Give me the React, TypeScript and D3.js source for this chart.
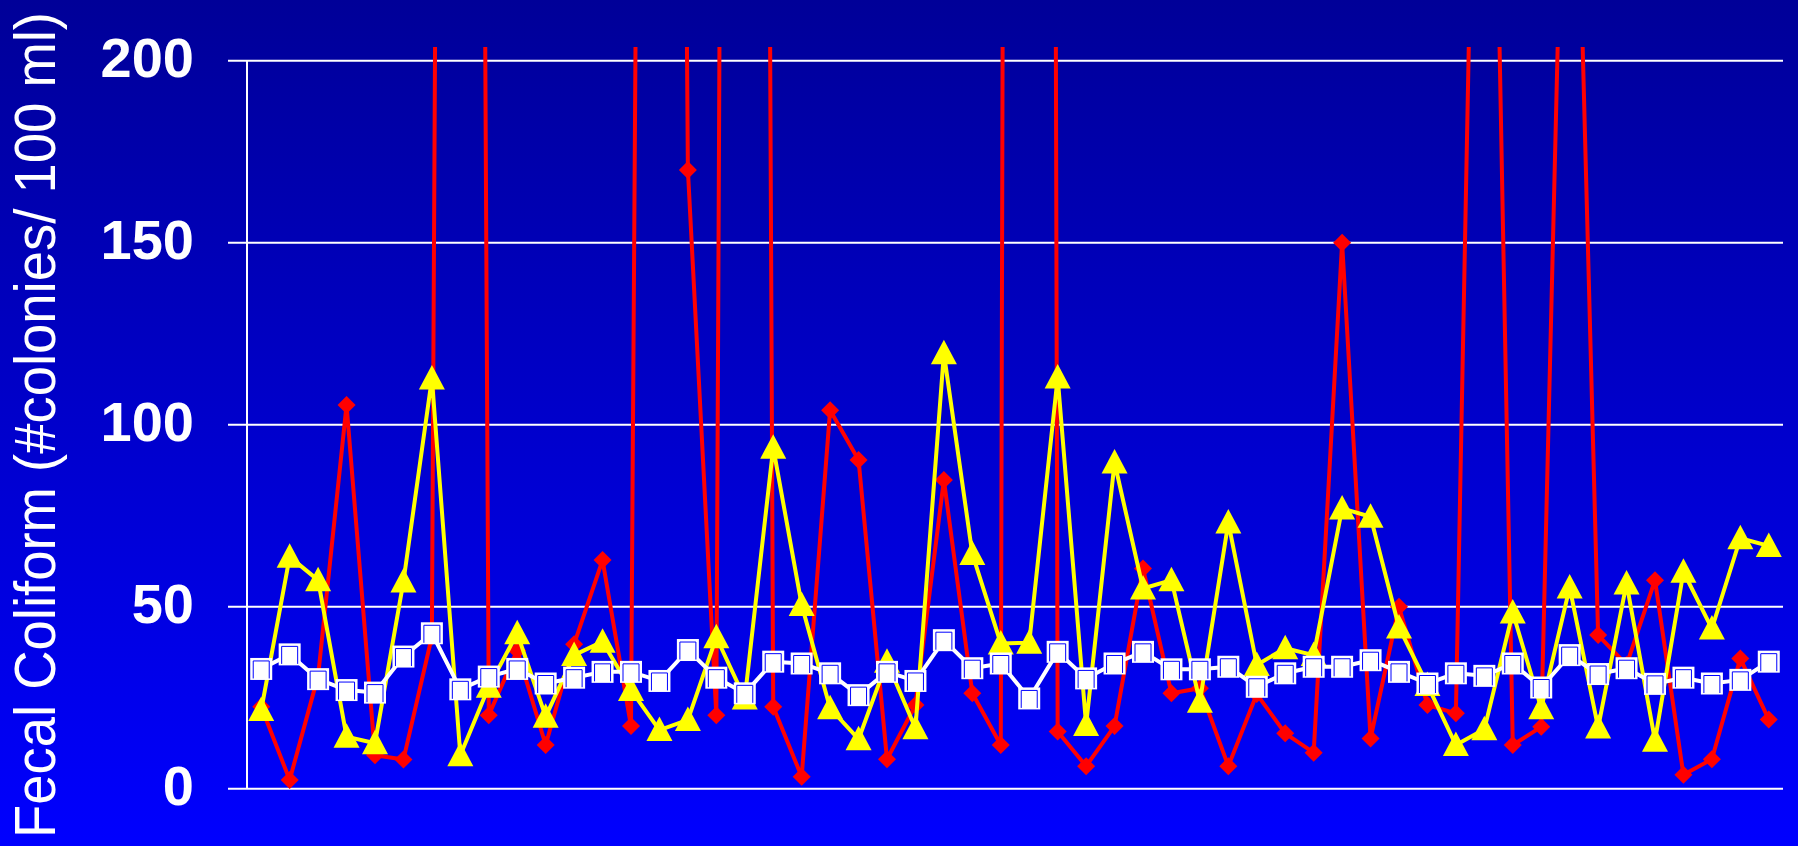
import React from "react";
import * as d3 from "d3";

// ---- Data (54 sampling occasions) ----
const categories: number[] = Array.from({ length: 54 }, (_, i) => i + 1);

const redSeries: number[] = [
  22.5, 2.4, 31, 105.4, 9.2, 8, 41.8, 1500, 20.2, 38,
  12, 39.7, 62.8, 17.2, 1200, 170, 20.2, 1700, 22.5, 3.3,
  104, 90.3, 8.1, 23, 84.8, 26.2, 12, 3000, 15.7, 6.2,
  17.2, 60.5, 26.2, 27.6, 6.2, 26, 15.2, 9.9, 150, 13.8,
  50, 23, 20.7, 425, 12, 17, 340, 42.2, 34, 57.3,
  3.8, 8.1, 35.8, 19,
];

const yellowSeries: number[] = [
  21.6, 63.7, 57.3, 14.3, 12.5, 56.9, 112.7, 9.2, 28, 42.7,
  19.8, 36.7, 40.4, 27.1, 16.1, 18.9, 41.6, 24.8, 93.7, 50.5,
  22.1, 13.6, 34.9, 16.6, 119.6, 64.5, 39.9, 40.1, 113, 17.5,
  89.6, 55, 57.3, 23.9, 73.1, 34, 38.6, 36.7, 77, 74.7,
  44.3, 28.5, 12, 16.3, 48.4, 22.1, 55.3, 16.8, 56.4, 13.2,
  59.6, 44, 68.8, 66.7,
];

const whiteSeries: number[] = [
  32.9, 36.9, 30.1, 27.1, 26.4, 36.3, 42.7, 27.3, 30.8, 32.9,
  28.9, 30.5, 32.1, 32.1, 29.6, 38.1, 30.5, 26.2, 34.9, 34.4,
  31.7, 25.7, 32.1, 29.6, 40.8, 33.1, 34.4, 24.8, 37.6, 30.3,
  34.4, 37.6, 32.8, 32.8, 33.5, 28, 31.7, 33.5, 33.5, 35.3,
  32.1, 28.9, 31.7, 31, 34.4, 27.8, 36.7, 31.5, 33.1, 28.8,
  30.5, 28.9, 29.9, 34.9,
];

const yTicks: number[] = [0, 50, 100, 150, 200];
const yTitle = "Fecal Coliform (#colonies/ 100 ml)";

// ---- Layout ----
const W = 1798;
const H = 846;
const plotLeft = 247;
const plotRight = 1783;
const yZero = 788.7;
const yTop = 60.7;
const clipTop = 47;

export default function App() {
  const x = d3
    .scaleBand<number>()
    .domain(categories)
    .range([plotLeft, plotRight])
    .paddingInner(0)
    .paddingOuter(0);
  const cx = (i: number) => (x(categories[i]) as number) + x.bandwidth() / 2;
  const y = d3.scaleLinear().domain([0, 200]).range([yZero, yTop]);

  const line = d3
    .line<number>()
    .x((_, i) => cx(i))
    .y((d) => y(d));

  const diamond = (px: number, py: number) =>
    `M${px},${py - 9} L${px + 9},${py} L${px},${py + 9} L${px - 9},${py} Z`;
  const triangle = (px: number, py: number) =>
    `M${px},${py - 13.5} L${px + 13},${py + 11} L${px - 13},${py + 11} Z`;

  return (
    <svg
      width={W}
      height={H}
      style={{ position: "absolute", left: 0, top: 0, display: "block" }}
    >
      <defs>
        <linearGradient id="bg" x1="0" y1="0" x2="0" y2="1">
          <stop offset="0" stopColor="#000098" />
          <stop offset="1" stopColor="#0000FF" />
        </linearGradient>
        <clipPath id="plotClip">
          <rect x={plotLeft - 20} y={clipTop} width={plotRight - plotLeft + 40} height={H - clipTop} />
        </clipPath>
      </defs>
      <rect x={0} y={0} width={W} height={H} fill="url(#bg)" />

      {/* gridlines */}
      {yTicks.map((t) => (
        <line
          key={"g" + t}
          x1={228}
          x2={plotRight}
          y1={y(t)}
          y2={y(t)}
          stroke="#FFFFFF"
          strokeWidth={2}
        />
      ))}
      <line x1={plotLeft} x2={plotLeft} y1={yTop} y2={yZero} stroke="#FFFFFF" strokeWidth={2} />

      {/* tick labels */}
      {yTicks.map((t) => (
        <text
          key={"t" + t}
          x={194}
          y={y(t) + 16}
          textAnchor="end"
          fill="#FFFFFF"
          fontFamily="'Liberation Sans', Arial, sans-serif"
          fontWeight="bold"
          fontSize={56}
        >
          {t}
        </text>
      ))}

      {/* axis title */}
      <text
        transform="translate(55,425) rotate(-90)"
        textAnchor="middle"
        fill="#FFFFFF"
        fontFamily="'Liberation Sans', Arial, sans-serif"
        fontSize={57}
        textLength={826}
        lengthAdjust="spacingAndGlyphs"
      >
        {yTitle}
      </text>

      <g clipPath="url(#plotClip)">
        {/* red series */}
        <path d={line(redSeries) || ""} fill="none" stroke="#FF0000" strokeWidth={4} strokeLinejoin="round" />
        {redSeries.map((v, i) => (
          <path key={"r" + i} d={diamond(cx(i), y(v))} fill="#FF0000" />
        ))}

        {/* yellow series */}
        <path d={line(yellowSeries) || ""} fill="none" stroke="#FFFF00" strokeWidth={4} strokeLinejoin="round" />
        {yellowSeries.map((v, i) => (
          <path key={"y" + i} d={triangle(cx(i), y(v))} fill="#FFFF00" />
        ))}

        {/* white series */}
        <path d={line(whiteSeries) || ""} fill="none" stroke="#FFFFFF" strokeWidth={4} strokeLinejoin="round" />
        {whiteSeries.map((v, i) => {
          const px = cx(i);
          const py = y(v);
          return (
            <g key={"w" + i}>
              <rect x={px - 11} y={py - 11} width={22} height={22} fill="#FFFFFF" />
              <path
                d={`M${px - 8},${py + 9.5} V${py - 8} H${px + 8} V${py + 9.5}`}
                fill="none"
                stroke="#0000FF"
                strokeWidth={1}
              />
            </g>
          );
        })}
      </g>
    </svg>
  );
}
